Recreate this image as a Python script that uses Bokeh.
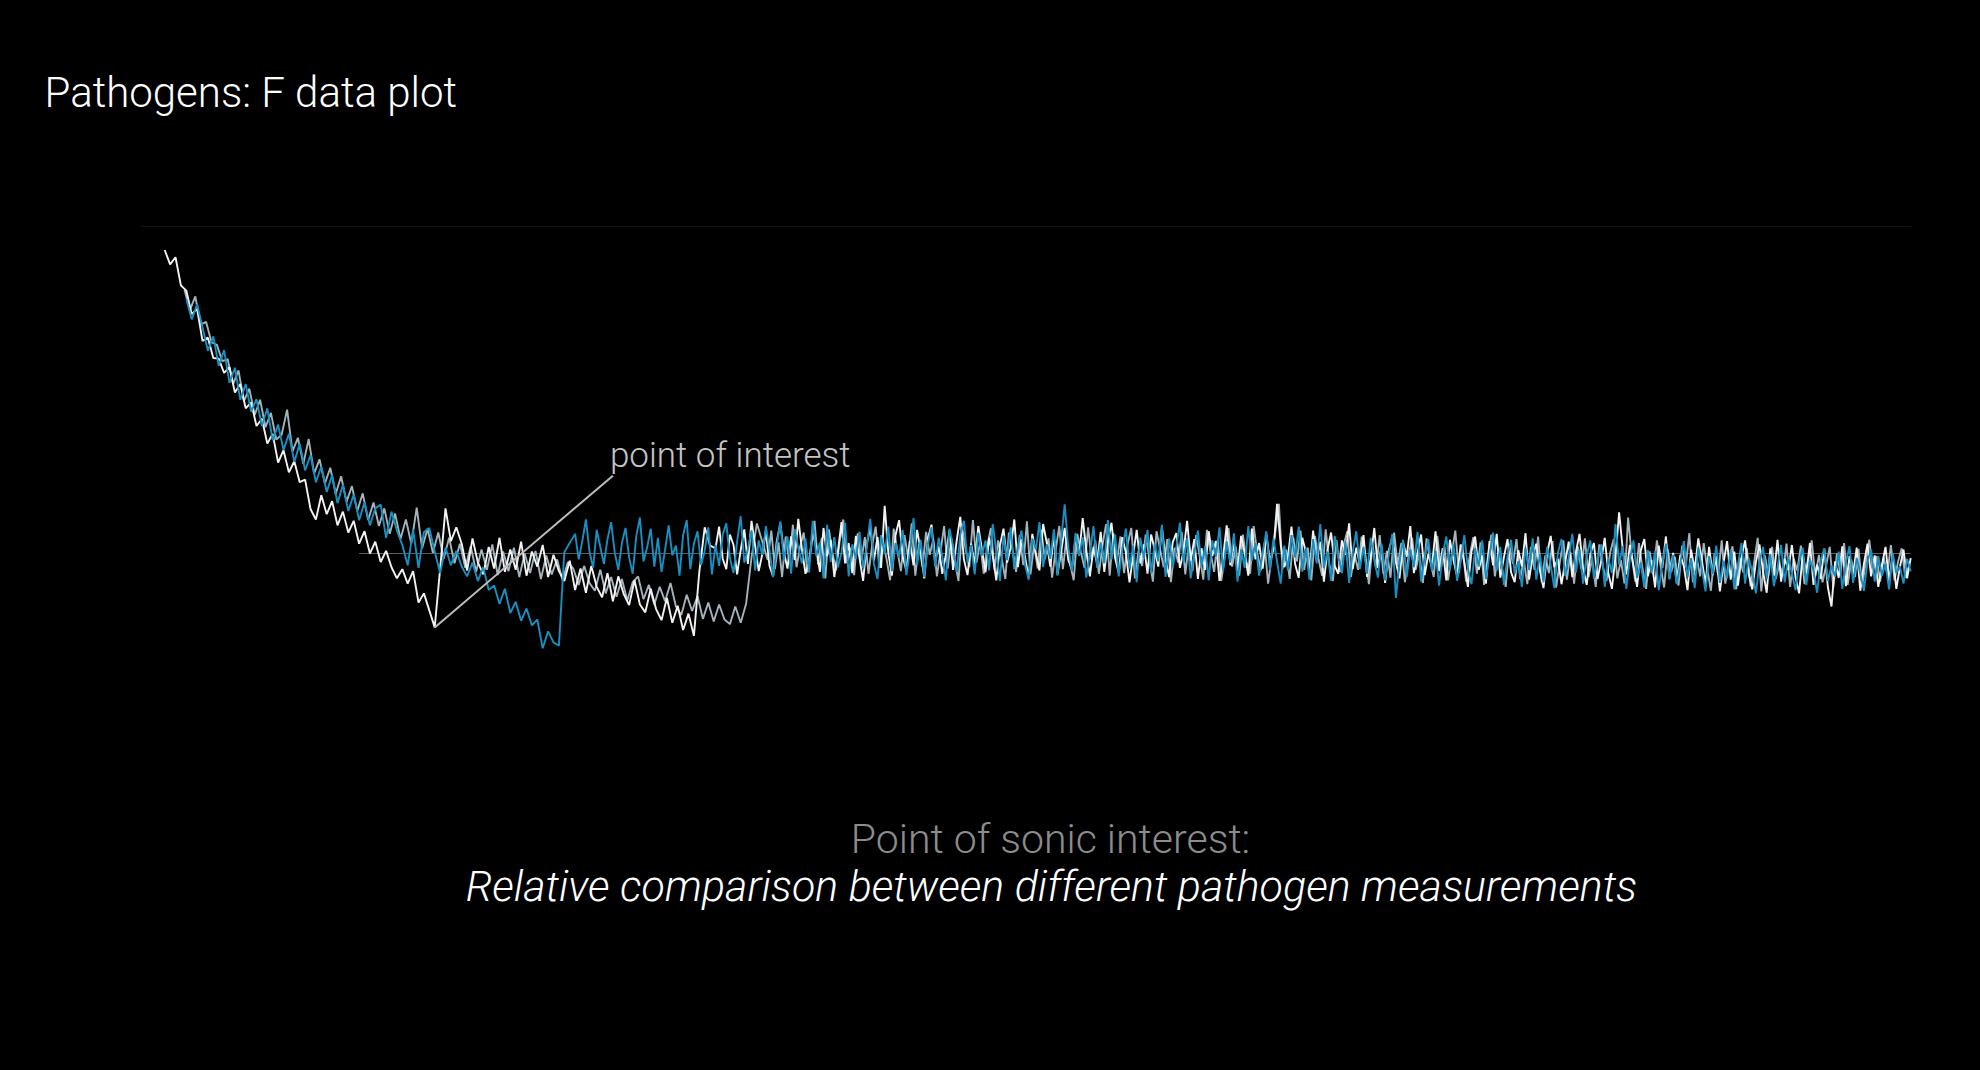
from bokeh.plotting import figure
from bokeh.models import Range1d, Label
from bokeh.embed import file_html
from bokeh.resources import INLINE
import numpy as np

# ---------------- data ----------------
title_text = "Pathogens: F data plot"
poi_text = "point of interest"
caption_1 = "Point of sonic interest:"
caption_2 = "Relative comparison between different pathogen measurements"

# Each series: a "head" sampled every 3 x-units, then a "tail" sampled every 2.
head_step = 3
tail_step = 2

white_head_x0 = 29
white_head = [
    96.4, 94.2, 95.3, 91.0, 90.2, 86.6, 87.4, 82.5, 83.0, 79.9,
    79.8, 77.6, 78.5, 74.6, 75.9, 72.2, 73.1, 69.5, 70.6, 66.8,
    68.3, 63.9, 65.8, 62.4, 64.1, 60.9, 61.3, 56.8, 55.2, 58.9,
    56.0, 58.0, 54.3, 56.4, 53.2, 55.0, 51.5, 53.4, 50.0, 51.8,
    48.7, 50.4, 47.9, 46.2, 47.6, 45.4, 47.3, 42.5, 43.9, 41.3,
    38.7, 47.6, 56.9, 51.9, 54.0,
    51.5, 47.4, 52.3, 48.6, 46.8, 51.0, 47.7, 52.4, 47.2, 50.6,
    47.5, 51.8, 46.6, 50.3, 48.0, 51.3, 46.4, 49.8, 47.3,
    45.8, 48.9, 44.4, 47.7, 44.0, 48.1, 44.9, 43.3, 47.0, 42.7,
    46.5, 43.8, 42.1, 45.9, 42.2, 41.0, 44.6, 41.5, 39.8, 43.2,
    39.4, 42.0, 38.3, 40.8, 37.4,
    47.2, 54.0, 51.2,
]
white_tail_x0 = 335
white_tail = [
    50.8, 54.1, 49.2, 47.6, 52.9, 51.3, 46.8, 50.5, 53.7, 48.4,
    55.0, 51.2, 47.3, 49.9, 53.4, 48.1, 46.5, 51.8, 54.6, 50.2,
    47.7, 52.6, 49.0, 55.3, 50.7, 46.9, 48.8, 53.2, 51.0, 47.2,
    53.9, 49.6, 52.1, 46.4, 50.3, 54.8, 48.5, 51.6, 47.0, 52.7,
    49.3, 45.8, 51.4, 54.0, 48.9, 52.5, 47.8, 57.3, 50.1, 46.6,
    52.8, 55.1, 49.5, 47.4, 51.9, 48.2, 53.6, 50.4, 46.2, 52.3,
    54.4, 48.7, 51.1, 46.9, 49.8, 53.5, 47.5, 52.0, 55.6, 49.1,
    46.7, 51.5, 48.3, 54.2, 50.6, 47.1, 52.4, 49.7, 45.9, 51.2,
    53.8, 48.6, 50.9, 55.2, 47.9, 52.2, 49.4, 46.3, 53.0, 50.0,
    47.4, 54.5, 51.7, 48.0, 52.6, 46.8, 50.2, 53.9, 49.0, 47.6,
    52.3, 49.8, 55.4, 50.5, 46.5, 51.0, 48.4, 53.3, 47.2, 51.8,
    54.7, 49.3, 47.0, 52.5, 50.1, 45.6, 49.7, 53.6, 48.5, 51.4,
    46.9, 52.9, 50.6, 48.0, 54.0, 49.2, 46.4, 51.7, 53.1, 47.8,
    50.3, 55.0, 48.9, 52.2, 46.1, 50.8, 47.5, 53.4, 49.6, 51.9,
    45.8, 49.4, 54.3, 48.2, 51.5, 47.3, 52.7, 50.0, 46.6, 53.8,
    49.1, 51.6, 47.7, 53.0, 48.8, 50.7, 57.6, 51.3, 47.9, 49.5,
    54.1, 48.4, 46.3, 52.4, 50.2, 47.1, 53.5, 49.0, 51.8, 45.7,
    50.6, 53.2, 48.1, 46.9, 52.0, 49.8, 54.6, 47.6, 50.9, 48.3,
    52.8, 46.4, 49.3, 53.9, 47.8, 51.1, 45.5, 50.4, 52.5, 48.7,
    46.2, 51.7, 49.5, 54.2, 47.0, 50.1, 52.9, 46.7, 49.9, 48.0,
    53.4, 47.3, 50.8, 45.9, 52.1, 49.0, 46.5, 51.4, 48.6, 44.9,
    50.3, 52.6, 47.5, 49.7, 45.4, 51.9, 48.2, 53.0, 46.3, 49.4,
    52.2, 47.1, 45.6, 50.5, 48.0, 53.1, 46.0, 49.6, 51.5, 47.4,
    44.7, 50.0, 52.7, 47.9, 49.2, 45.3, 48.6, 51.8, 46.4, 50.2,
    53.0, 47.7, 45.2, 49.9, 51.6, 46.1, 48.8, 52.4, 47.0, 44.6,
    49.5, 56.3, 50.7, 46.8, 51.3, 48.1, 44.9, 50.4, 52.2, 46.5,
    49.0, 44.8, 51.2, 47.8, 52.6, 46.2, 50.1, 45.5, 49.8, 48.0,
    44.4, 50.6, 47.4, 52.3, 48.9, 45.3, 51.0, 46.7, 49.6, 44.2,
    48.5, 51.9, 46.0, 50.3, 45.1, 49.4, 52.0, 46.9, 44.5, 48.7,
    51.4, 47.2, 44.0, 50.8, 46.6, 52.1, 45.7, 49.2, 47.5, 51.3,
    46.4, 43.9, 49.9, 47.0, 51.6, 45.2, 48.3, 46.1, 50.7, 44.8,
    41.9, 48.8, 46.3, 51.1, 45.0, 49.6, 46.8, 50.9, 44.3, 48.4,
    51.5, 46.5, 49.7, 44.9, 48.2, 51.0, 45.8, 49.9, 44.6, 47.9,
    50.6, 46.2, 49.3,
]

blue_head_x0 = 41
blue_head = [
    88.9, 85.8, 88.1, 84.6, 81.0, 83.2, 78.7, 81.1, 76.1, 78.4,
    73.5, 75.9, 71.7, 73.6, 69.5, 72.2, 67.3, 69.7, 65.8, 68.3,
    64.0, 66.8, 62.7, 65.0, 60.9, 63.3, 59.4, 62.0, 57.7, 60.5,
    56.5, 59.0, 55.1, 57.8, 54.3, 56.9, 57.5, 52.4, 56.4, 53.5,
    51.3, 48.2, 53.6, 47.8, 53.3, 53.9, 50.3, 47.0, 50.9, 48.2,
    50.4, 48.0, 46.5, 48.6, 45.8, 47.9, 44.4, 45.1, 42.3, 44.6,
    40.9, 42.6, 39.7, 41.6, 39.0, 39.9, 35.5, 38.1, 36.4, 35.9,
    50.2, 51.6,
]
blue_tail_x0 = 257
blue_tail = [
    53.0, 49.1, 51.9, 55.2, 50.3, 47.8, 53.6, 51.0, 48.4, 52.2,
    54.8, 50.2, 47.5, 51.6, 53.9, 49.4, 46.9, 52.7, 55.5, 48.8,
    50.9, 53.8, 48.0, 52.4, 47.2, 50.6, 54.3, 49.7, 51.2, 46.6,
    52.8, 55.1, 47.6, 51.5, 53.4, 48.2, 50.4, 54.0, 46.8, 51.3,
    48.1, 52.9, 54.6, 49.3, 47.0, 51.8, 55.7, 48.6, 50.7, 53.5,
    47.4, 52.0, 49.8, 54.2, 50.5, 46.4, 51.1, 54.9, 48.9, 52.6,
    46.9, 53.7, 50.8, 48.5, 52.3, 47.1, 55.0, 49.6, 51.7, 46.2,
    54.4, 48.7, 52.5, 47.9, 50.1, 54.7, 46.5, 51.4, 49.2, 53.3,
    47.7, 51.0, 55.3, 48.4, 46.1, 52.8, 49.9, 54.1, 47.3, 51.6,
    49.4, 53.6, 46.7, 50.2, 55.4, 48.3, 52.1, 46.4, 51.5, 54.0,
    48.0, 52.4, 49.5, 45.9, 53.8, 51.1, 47.2, 52.9, 55.0, 48.6,
    51.3, 46.8, 53.2, 49.7, 52.0, 47.4, 54.5, 50.3, 45.8, 52.7,
    49.0, 54.0, 47.6, 51.2, 53.5, 48.2, 46.0, 52.3, 50.6, 54.8,
    47.9, 51.4, 49.2, 53.7, 46.6, 52.0, 57.5, 50.8, 47.4, 53.1,
    49.6, 52.5, 46.3, 50.0, 54.2, 47.8, 51.7, 48.5, 55.1, 49.1,
    52.9, 46.5, 50.7, 53.8, 47.7, 51.2, 45.6, 52.4, 49.3, 53.6,
    47.0, 51.5, 48.8, 54.4, 46.4, 52.3, 47.9, 50.9, 54.7, 48.6,
    52.4, 46.2, 50.0, 53.5, 48.0, 51.1, 45.9, 52.0, 49.5, 54.0,
    47.3, 51.8, 48.6, 53.1, 45.7, 50.6, 47.8, 54.2, 48.9, 51.6,
    46.6, 50.1, 53.4, 47.5, 52.3, 48.7, 45.4, 51.2, 47.4, 52.8,
    49.4, 54.1, 47.2, 50.9, 46.0, 52.2, 48.5, 54.5, 47.8, 50.3,
    45.8, 52.7, 49.6, 47.0, 51.8, 45.5, 50.2, 53.4, 47.6, 51.0,
    46.9, 52.4, 49.0, 46.3, 51.5, 45.9, 49.8, 53.0, 43.2, 48.7,
    52.1, 46.4, 50.6, 47.9, 53.3, 45.7, 49.5, 52.2, 47.3, 50.4,
    45.1, 49.9, 52.6, 47.5, 51.4, 45.8, 48.9, 52.8, 47.7, 45.3,
    50.8, 48.0, 52.0, 46.1, 49.8, 53.2, 47.4, 51.0, 45.2, 49.6,
    52.1, 46.9, 48.8, 44.9, 50.9, 47.5, 52.3, 46.0, 49.9, 45.6,
    51.0, 48.2, 44.7, 50.1, 52.2, 46.6, 49.4, 53.0, 47.1, 50.6,
    45.4, 49.7, 52.0, 46.2, 48.8, 51.4, 44.9, 49.3, 47.0, 54.5,
    48.3, 51.1, 44.6, 49.2, 52.0, 46.3, 48.6, 44.8, 50.5, 47.0,
    50.4, 44.4, 48.4, 51.5, 46.0, 49.8, 45.3, 48.5, 51.9, 46.4,
    49.3, 44.7, 50.9, 47.6, 44.2, 49.6, 46.8, 51.2, 45.5, 48.9,
    46.2, 50.6, 44.5, 48.2, 51.6, 45.4, 49.3, 47.2, 43.9, 48.7,
    51.0, 46.1, 49.9, 45.0, 47.9, 51.3, 45.6, 49.5, 46.9, 44.4,
    48.6, 50.9, 45.2, 49.1, 47.3, 44.0, 48.9, 50.8, 45.8, 48.1,
    46.5, 50.3, 44.6, 48.7, 51.1, 45.5, 49.3, 46.9, 44.3, 48.8,
    50.6, 45.7, 49.6, 46.6, 48.4, 44.5, 50.0, 47.0, 48.0, 45.4,
    49.2, 47.3,
]

grey_head_x0 = 40
grey_head = [
    90.3, 87.2, 89.3, 85.0, 85.4, 82.3, 81.9, 79.4, 79.7, 75.9,
    78.0, 73.3, 75.2, 71.2, 73.5, 69.3, 71.5, 67.4, 68.2, 72.0,
    65.6, 67.7, 63.7, 67.5, 62.2, 64.4, 60.7, 63.1, 59.1, 61.8,
    57.9, 60.3, 56.5, 59.2, 55.1, 57.8, 54.2, 56.9, 53.0, 56.1,
    52.2, 55.2, 51.5, 57.0, 50.8, 53.8, 50.1, 53.2, 49.2, 52.4,
    48.5, 51.5, 47.8, 51.1, 47.2, 50.6, 47.5, 51.4, 46.7, 50.3,
    47.3, 50.9, 46.4, 50.0, 47.0, 50.4, 46.1, 49.7, 46.8, 49.1,
    45.9, 48.7,
    47.7, 45.2, 48.1, 45.5, 44.3, 47.5, 43.9, 46.4, 43.4, 46.1,
    42.8, 45.6, 46.5, 43.0, 45.2, 42.2, 44.9, 42.7, 45.5, 41.9,
    40.6, 43.7, 41.2, 43.5, 40.0, 42.5, 39.6, 42.2, 39.9, 39.2,
    41.9, 39.4, 42.3,
    49.4, 54.6, 51.8,
]
grey_tail_x0 = 364
grey_tail = [
    49.0, 53.5, 47.6, 51.7, 46.4, 52.6, 48.7, 54.4, 47.9, 51.0,
    53.2, 47.1, 50.6, 55.0, 48.3, 52.4, 46.2, 53.7, 50.0, 47.4,
    51.9, 55.2, 48.5, 50.9, 46.7, 53.1, 48.9, 52.5, 46.9, 51.2,
    54.1, 47.8, 52.0, 49.2, 45.9, 53.8, 50.5, 47.3, 52.8, 49.4,
    54.6, 46.6, 51.4, 47.9, 53.3, 49.8, 52.2, 46.5, 50.3, 54.2,
    47.7, 52.3, 48.8, 45.8, 54.0, 50.6, 47.9, 55.1, 48.6, 51.7,
    46.9, 51.2, 53.9, 47.5, 52.0, 49.3, 46.1, 53.2, 50.7, 47.2,
    52.8, 48.2, 54.9, 46.8, 51.4, 47.7, 53.6, 49.1, 52.3, 46.3,
    50.6, 54.2, 47.6, 52.5, 48.4, 45.9, 53.0, 50.2, 47.8, 54.0,
    49.0, 52.0, 46.9, 51.3, 54.5, 46.6, 53.1, 48.8, 52.6, 47.0,
    51.5, 53.9, 46.2, 50.4, 48.1, 52.9, 49.3, 45.7, 53.4, 50.6,
    47.9, 52.2, 45.6, 50.9, 48.6, 53.3, 46.8, 51.6, 47.3, 52.8,
    49.6, 46.0, 53.6, 50.2, 47.2, 52.1, 45.8, 49.7, 53.9, 48.0,
    51.1, 46.6, 52.9, 48.7, 46.9, 54.2, 50.0, 47.4, 51.6, 45.4,
    49.5, 53.2, 57.6, 47.6, 50.6, 46.1, 52.4, 48.8, 53.5, 47.5,
    50.9, 45.9, 52.7, 49.2, 46.6, 53.7, 48.4, 45.8, 52.0, 47.2,
    51.3, 53.4, 46.4, 49.9, 47.5, 52.6, 49.6, 45.3, 51.4, 47.6,
    52.8, 46.9, 50.4, 46.3, 53.2, 48.2, 51.6, 45.6, 49.5, 52.4,
    47.5, 50.1, 45.5, 52.3, 49.0, 46.4, 52.7, 47.6, 51.0, 45.9,
    49.8, 53.5, 47.0, 51.2, 45.7, 49.6, 52.5, 46.9, 51.7, 45.2,
    49.3, 52.9, 46.5, 50.5, 47.6, 44.9, 51.4, 48.4, 52.2, 46.1,
    49.1, 45.3, 51.0, 47.5, 52.6, 45.6, 49.7, 47.0, 51.9, 44.8,
    48.5, 52.0, 46.0, 50.2, 45.4, 51.1, 47.6, 52.3, 46.4, 49.2,
    44.9, 51.4, 48.0, 45.8, 50.1, 52.2, 46.2, 49.0, 45.4, 55.5,
    49.7, 45.7, 51.6, 47.7, 44.6, 50.3, 46.9, 52.0, 48.2, 44.8,
    50.7, 47.2, 49.5, 45.1, 51.2, 47.9, 53.1, 45.6, 49.6, 46.5,
    51.6, 47.6, 44.3, 50.0, 46.7, 52.0, 45.4, 48.8, 51.1, 44.5,
    49.3, 47.1, 50.8, 45.0, 48.6, 52.4, 44.2, 49.7, 46.6, 51.0,
    46.1, 48.3, 46.9, 51.5, 44.9, 49.2, 47.4, 51.2, 45.3, 48.9,
    52.0, 46.5, 49.8, 45.6, 48.1, 51.0, 44.8, 50.0, 47.0, 51.6,
    45.2, 49.0, 46.4, 50.7, 45.0, 48.6, 52.1, 47.1, 49.6, 45.7,
    49.4, 46.8, 51.3, 45.9, 48.8, 50.8, 46.3, 48.1,
]

ref_x = [137, 999]      # reference (mean) line extent
ref_level = 50
top_line_x = [16, 999]
top_level = 100

# ---------------- styling ----------------
W, H = 1964, 1054
BG = "#000000"
C_WHITE = "#f2f2f2"
C_GREY = "#a3b3ba"
C_BLUE = "#168fc1"
FONT = "Roboto Light"
LW = 1.9

p = figure(width=W, height=H, output_backend="svg", toolbar_location=None,
           x_axis_type=None, y_axis_type=None,
           x_range=Range1d(-57.78, 1033.33), y_range=Range1d(-27.83, 133.33))
p.min_border = 0
p.outline_line_color = None
p.background_fill_color = BG
p.border_fill_color = BG


def series_xy(h0, head, t0, tail):
    xs = list(h0 + head_step * np.arange(len(head))) + list(t0 + tail_step * np.arange(len(tail)))
    return xs, list(head) + list(tail)


wx, wy = series_xy(white_head_x0, white_head, white_tail_x0, white_tail)
bx, by = series_xy(blue_head_x0, blue_head, blue_tail_x0, blue_tail)
gx, gy = series_xy(grey_head_x0, grey_head, grey_tail_x0, grey_tail)

p.line(top_line_x, [top_level, top_level], line_color="#151515", line_width=1)
p.line(ref_x, [ref_level, ref_level], line_color="#5e5e5e", line_width=1.2)

p.line(gx, gy, line_color=C_GREY, line_width=LW)
p.line(wx, wy, line_color=C_WHITE, line_width=LW)
p.line(bx, by, line_color=C_BLUE, line_width=LW)

# annotation: from the white series' minimum in its first descent to the label
i_min = int(np.argmin(white_head[:60]))
ax0, ay0 = float(wx[i_min]), float(wy[i_min])
ax1, ay1 = ax0 + 99, ay0 + 23.2
p.line([ax0, ax1], [ay0, ay1], line_color="#bdbdbd", line_width=2)

p.add_layout(Label(x=ax1, y=ay1, text=poi_text, text_font=FONT,
                   text_font_size="35px", text_color="#c4c4c4",
                   text_baseline="bottom", text_align="left", x_offset=-3))

p.add_layout(Label(x=36, y=970, x_units="screen", y_units="screen",
                   text=title_text, text_font=FONT, text_font_size="42px",
                   text_color="#ffffff", text_baseline="alphabetic"))
p.add_layout(Label(x=1042, y=224, x_units="screen", y_units="screen",
                   text=caption_1, text_font=FONT, text_font_size="41px",
                   text_color="#8c8c8c", text_align="center", text_baseline="alphabetic"))
p.add_layout(Label(x=1043, y=177, x_units="screen", y_units="screen",
                   text=caption_2, text_font=FONT, text_font_size="43px",
                   text_font_style="italic",
                   text_color="#ffffff", text_align="center", text_baseline="alphabetic"))

html = file_html(p, INLINE)
style = ("<style>html{background:#000;}"
         "body{margin:8px !important;height:auto !important;background:#000;overflow:hidden;}</style>")
html = html.replace("</head>", style + "</head>", 1)
open("out.html", "w").write(html)
